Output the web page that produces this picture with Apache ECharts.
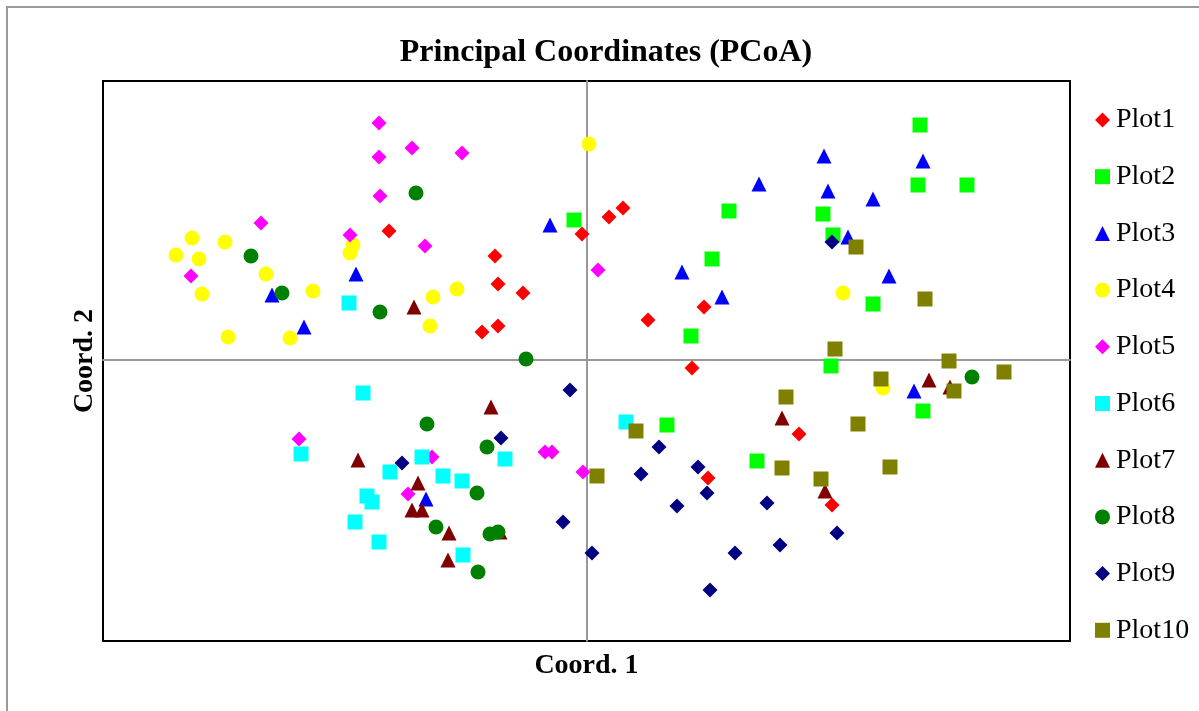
<!DOCTYPE html>
<html>
<head>
<meta charset="utf-8">
<script src="https://cdn.jsdelivr.net/npm/echarts@6/dist/echarts.min.js"></script>
<style>
  html, body { margin: 0; padding: 0; background: #fff; }
  #chart { width: 1199px; height: 711px; }
</style>
</head>
<body>
<div id="chart"></div>
<script>
// PCoA scores (Coord. 1, Coord. 2)
const plot1 = [[-1.98,1.29],[-0.92,1.04],[-0.89,0.76],[-0.64,0.67],[-0.89,0.34],[-1.05,0.28],[-0.05,1.26],[0.22,1.43],[0.36,1.52],[1.17,0.53],[0.61,0.40],[1.05,-0.08],[2.12,-0.74],[1.21,-1.18],[2.45,-1.45]];
const plot2 = [[-0.13,1.40],[1.42,1.49],[1.25,1.01],[1.04,0.24],[2.36,1.46],[3.33,2.35],[3.31,1.75],[3.80,1.75],[2.46,1.25],[2.86,0.56],[2.44,-0.06],[0.80,-0.65],[1.70,-1.01],[3.36,-0.51]];
const plot3 = [[-3.15,0.65],[-2.83,0.33],[-0.37,1.35],[-2.31,0.86],[1.72,1.76],[0.95,0.88],[1.35,0.63],[2.37,2.04],[3.36,1.99],[2.41,1.69],[2.86,1.61],[2.61,1.23],[3.02,0.84],[-1.61,-1.39],[3.27,-0.31]];
const plot4 = [[-3.95,1.22],[-4.11,1.05],[-3.88,1.01],[-3.62,1.18],[-3.21,0.86],[-3.85,0.66],[-2.74,0.69],[-3.59,0.23],[-2.97,0.22],[-2.34,1.15],[-2.37,1.07],[-1.54,0.63],[-1.30,0.71],[-1.57,0.34],[0.02,2.16],[2.56,0.67],[2.96,-0.28]];
const plot5 = [[-3.26,1.37],[-3.96,0.84],[-2.08,2.37],[-1.75,2.12],[-2.08,2.03],[-1.25,2.07],[-2.07,1.64],[-2.37,1.25],[-1.62,1.14],[0.11,0.90],[-2.88,-0.79],[-1.55,-0.97],[-1.79,-1.34],[-0.42,-0.92],[-0.35,-0.92],[-0.04,-1.12]];
const plot6 = [[-2.38,0.57],[-2.86,-0.94],[-2.24,-0.33],[-1.65,-0.97],[-1.97,-1.12],[-2.20,-1.36],[-2.15,-1.42],[-1.44,-1.16],[-1.25,-1.21],[-0.82,-0.99],[-2.32,-1.62],[-2.08,-1.82],[-1.24,-1.95],[0.39,-0.62]];
const plot7 = [[-1.73,0.53],[-0.96,-0.47],[-2.29,-1.00],[-1.69,-1.23],[-1.75,-1.50],[-1.65,-1.50],[-1.38,-1.73],[-1.39,-2.00],[-0.87,-1.72],[1.95,-0.58],[3.42,-0.20],[3.63,-0.27],[2.38,-1.31]];
const plot8 = [[-3.36,1.04],[-3.05,0.67],[-1.71,1.67],[-2.07,0.48],[-0.61,0.01],[-1.60,-0.64],[-1.00,-0.87],[-1.10,-1.33],[-1.51,-1.67],[-0.97,-1.74],[-0.89,-1.72],[-1.09,-2.12],[3.85,-0.17]];
const plot9 = [[2.45,1.18],[-0.17,-0.30],[-0.86,-0.78],[-1.85,-1.03],[-0.24,-1.62],[0.72,-0.87],[0.54,-1.14],[1.11,-1.07],[1.20,-1.33],[0.90,-1.46],[1.80,-1.43],[0.05,-1.93],[1.48,-1.93],[1.93,-1.85],[1.23,-2.30],[2.50,-1.73]];
const plot10 = [[2.69,1.13],[3.38,0.61],[2.48,0.11],[3.62,-0.01],[4.17,-0.12],[2.94,-0.19],[3.67,-0.31],[2.71,-0.64],[3.03,-1.07],[2.34,-1.19],[1.99,-0.37],[0.49,-0.71],[0.10,-1.16],[1.95,-1.08]];

const seriesNames = ['Plot1','Plot2','Plot3','Plot4','Plot5','Plot6','Plot7','Plot8','Plot9','Plot10'];
const seriesData = [plot1, plot2, plot3, plot4, plot5, plot6, plot7, plot8, plot9, plot10];
const symbols = ['diamond','rect','triangle','circle','diamond','rect','triangle','circle','diamond','rect'];
const colors = ['#FF0000','#00FF00','#0000FF','#FFFF00','#FF00FF','#00FFFF','#800000','#008000','#000080','#808000'];

const serif = '"Liberation Serif", "Times New Roman", serif';

const chart = echarts.init(document.getElementById('chart'));

chart.setOption({
    animation: false,
    title: {
        text: 'Principal Coordinates (PCoA)',
        left: 601,
        top: 32,
        textAlign: 'center',
        textStyle: { fontFamily: serif, fontSize: 32, fontWeight: 'bold', color: '#000' }
    },
    graphic: [{
        type: 'rect',
        shape: { x: 7, y: 7, width: 1300, height: 1000 },
        style: { fill: 'none', stroke: '#9a9a9a', lineWidth: 2 },
        silent: true
    }],
    legend: {
        orient: 'vertical',
        left: 1090,
        top: 101,
        itemWidth: 15,
        itemHeight: 15,
        itemGap: 28.7,
        data: seriesNames,
        textStyle: { fontFamily: serif, fontSize: 28, color: '#000', lineHeight: 28, padding: [0, 0, 0, 1] }
    },
    grid: {
        left: 103,
        right: 129,
        top: 81,
        bottom: 70,
        show: true,
        borderColor: '#000',
        borderWidth: 2
    },
    xAxis: {
        type: 'value',
        min: -4.84,
        max: 4.83,
        name: 'Coord. 1',
        nameLocation: 'middle',
        nameGap: 11,
        nameTextStyle: { fontFamily: serif, fontSize: 28, fontWeight: 'bold', color: '#000' },
        axisLine: { onZero: true, lineStyle: { color: '#999', width: 2 } },
        axisTick: { show: false },
        axisLabel: { show: false },
        splitLine: { show: false }
    },
    yAxis: {
        type: 'value',
        min: -2.81,
        max: 2.79,
        name: 'Coord. 2',
        nameLocation: 'middle',
        nameGap: 4,
        nameTextStyle: { fontFamily: serif, fontSize: 28, fontWeight: 'bold', color: '#000' },
        axisLine: { onZero: true, lineStyle: { color: '#999', width: 2 } },
        axisTick: { show: false },
        axisLabel: { show: false },
        splitLine: { show: false }
    },
    series: seriesNames.map((name, i) => ({
        name,
        type: 'scatter',
        data: seriesData[i],
        symbol: symbols[i],
        symbolSize: 15,
        itemStyle: { color: colors[i], opacity: 1 }
    }))
});
</script>
</body>
</html>
